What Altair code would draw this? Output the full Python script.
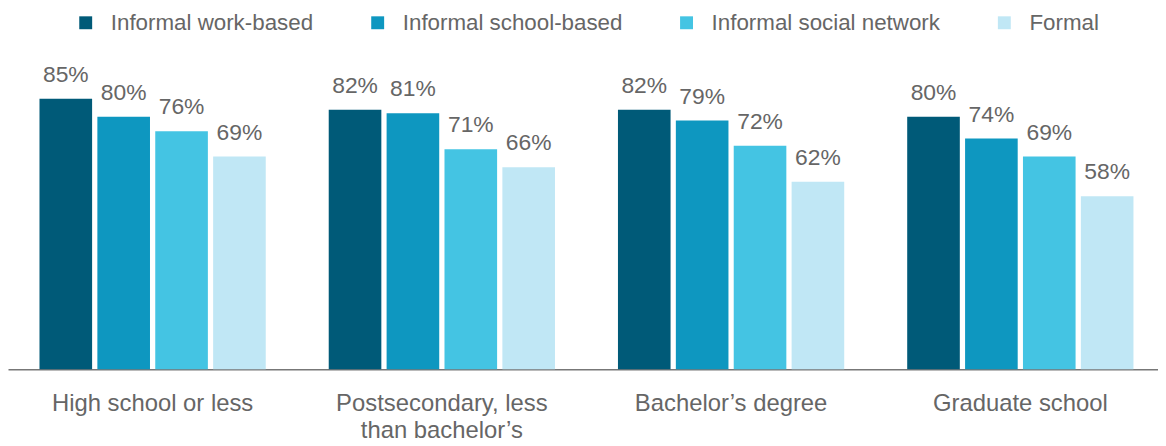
import altair as alt
import pandas as pd

categories = ["High school or less", "Postsecondary, less than bachelor’s",
              "Bachelor’s degree", "Graduate school"]
series = ["Informal work-based", "Informal school-based",
          "Informal social network", "Formal"]
work_based = [85, 82, 82, 80]
school_based = [80, 81, 79, 74]
social_network = [76, 71, 72, 69]
formal = [69, 66, 62, 58]
colors = ["#005A78", "#0E97C0", "#44C4E3", "#C0E7F5"]

rows = []
for s, vals in zip(series, [work_based, school_based, social_network, formal]):
    for c, v in zip(categories, vals):
        rows.append({"category": c, "series": s, "value": v})
df = pd.DataFrame(rows)

FONT = "Liberation Sans"
TXT = "#666666"

label_expr = ("datum.label == 'Postsecondary, less than bachelor’s' ? "
              "['Postsecondary, less', 'than bachelor’s'] : datum.label")

base = alt.Chart(df).transform_calculate(
    label="datum.value + '%'"
).encode(
    x=alt.X("category:N", sort=categories, title=None,
            scale=alt.Scale(range=[0, 1165], paddingInner=0, paddingOuter=0),
            axis=alt.Axis(domain=True, domainColor="#777777", domainWidth=1.5,
                          ticks=False, tickSize=0, grid=False, labelAngle=0,
                          labelFont=FONT, labelFontSize=24, labelColor=TXT,
                          labelPadding=42, labelBaseline="alphabetic",
                          labelLineHeight=27, labelLimit=0,
                          labelExpr=label_expr)),
    xOffset=alt.XOffset("series:N", sort=series,
                        scale=alt.Scale(paddingInner=0.091, paddingOuter=0.544)),
)

bars = base.mark_bar().encode(
    y=alt.Y("value:Q", scale=alt.Scale(domain=[10, 100], zero=False), axis=None),
    y2=alt.datum(10),
    color=alt.Color("series:N", sort=series,
                    scale=alt.Scale(domain=series, range=colors),
                    legend=alt.Legend(title=None, orient="none", direction="horizontal",
                                      legendX=67, legendY=-33.5, padding=0,
                                      symbolType="square", symbolSize=169,
                                      symbolStrokeWidth=0, symbolOpacity=1,
                                      labelFont=FONT, labelFontSize=22.5,
                                      labelColor=TXT, labelOffset=14,
                                      columnPadding=53, labelLimit=0)),
)

text = base.mark_text(dy=-17, baseline="alphabetic", align="center",
                      font=FONT, fontSize=23, color=TXT).encode(
    y=alt.Y("value:Q"),
    text="label:N",
)

chart = alt.layer(bars, text).properties(
    width=1158, height=326.7,
    autosize=alt.AutoSizeParams(type="none"),
    padding={"left": 0, "right": 0, "top": 35.5, "bottom": 72},
).configure_view(stroke=None)

chart.save("out.html", embed_options={"renderer": "svg", "actions": False})
